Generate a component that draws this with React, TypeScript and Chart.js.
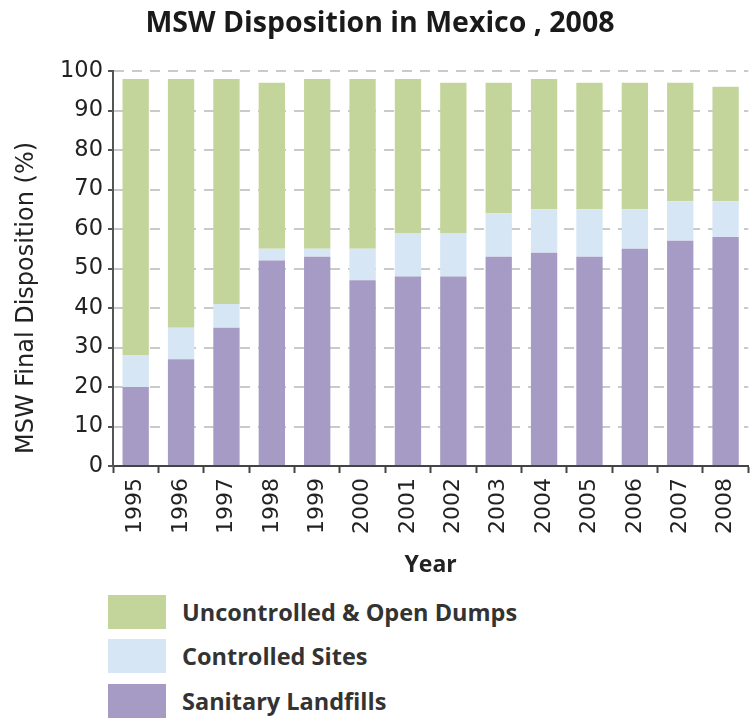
import React, { useEffect, useRef } from "react";
import { Chart, registerables } from "chart.js";

Chart.register(...registerables);

const years = ["1995", "1996", "1997", "1998", "1999", "2000", "2001", "2002", "2003", "2004", "2005", "2006", "2007", "2008"];
const sanitaryLandfills = [20, 27, 35, 52, 53, 47, 48, 48, 53, 54, 53, 55, 57, 58];
const controlledSites = [8, 8, 6, 3, 2, 8, 11, 11, 11, 11, 12, 10, 10, 9];
const uncontrolledDumps = [70, 63, 57, 42, 43, 43, 39, 38, 33, 33, 32, 32, 30, 29];

const seriesNames = ["Sanitary Landfills", "Controlled Sites", "Uncontrolled & Open Dumps"];
const seriesColors = ["#a69bc4", "#d6e6f4", "#c4d59b"];

const titleText = "MSW Disposition in Mexico , 2008";
const yTitle = "MSW Final Disposition (%)";
const xTitle = "Year";

const yTitlePlugin = {
  id: "yTitlePlugin",
  afterDraw(chart: any) {
    const ctx = chart.ctx;
    ctx.save();
    ctx.translate(27, 298);
    ctx.rotate(-Math.PI / 2);
    ctx.textAlign = "center";
    ctx.textBaseline = "middle";
    ctx.fillStyle = "#222";
    ctx.font = "24px 'DejaVu Sans'";
    ctx.fillText(yTitle, 0, 0);
    ctx.restore();
  },
};

export default function App() {
  const canvasRef = useRef<HTMLCanvasElement | null>(null);

  useEffect(() => {
    const canvas = canvasRef.current;
    if (!canvas) return;
    const series = [sanitaryLandfills, controlledSites, uncontrolledDumps];
    const chart = new Chart(canvas, {
      type: "bar",
      data: {
        labels: years,
        datasets: series.map((d, i) => ({
          label: seriesNames[i],
          data: d,
          backgroundColor: seriesColors[i],
          borderWidth: 0,
          barPercentage: 0.58,
          categoryPercentage: 1,
        })),
      },
      plugins: [yTitlePlugin],
      options: {
        responsive: false,
        animation: false,
        layout: { padding: { top: 71, left: 0, right: 0, bottom: 0 } },
        plugins: {
          legend: { display: false },
          title: { display: false },
          tooltip: { enabled: false },
        },
        scales: {
          x: {
            stacked: true,
            grid: {
              display: true,
              drawOnChartArea: false,
              drawTicks: true,
              tickLength: 7,
              tickColor: "#444",
              tickWidth: 2,
              offset: true,
            },
            border: { display: true, color: "#444", width: 2 },
            ticks: {
              autoSkip: false,
              minRotation: 90,
              maxRotation: 90,
              padding: 5,
              color: "#222",
              font: { family: "DejaVu Sans", size: 22 },
            },
            title: {
              display: true,
              text: xTitle,
              color: "#222",
              font: { family: "Open Sans", weight: "bold", size: 23 },
              padding: { top: 0, bottom: 11 },
            },
            afterFit: (s: any) => {
              s.height = 124;
            },
          },
          y: {
            stacked: true,
            min: 0,
            max: 100,
            ticks: {
              stepSize: 10,
              padding: 5,
              color: "#222",
              font: { family: "DejaVu Sans", size: 22.5 },
            },
            grid: {
              color: "#cacaca",
              lineWidth: 2,
              tickLength: 5,
              tickColor: "#555",
              tickWidth: 2,
            },
            border: { display: true, color: "#555", width: 2, dash: [10, 8] },
            title: { display: false },
            afterFit: (s: any) => {
              s.width = 113;
            },
          },
        },
      } as any,
    });
    return () => chart.destroy();
  }, []);

  const legendRows = [2, 1, 0];
  const legendTops = [595, 639, 684];

  return (
    <div style={{ position: "absolute", left: 0, top: 0, width: 751, height: 720, background: "#fff", overflow: "hidden" }}>
      <canvas ref={canvasRef} width={757} height={590} style={{ position: "absolute", left: 0, top: 0, width: 757, height: 590 }} />
      <div
        style={{
          position: "absolute",
          top: 6,
          left: 0,
          width: 760,
          textAlign: "center",
          fontFamily: "'Open Sans'",
          fontWeight: "bold",
          fontSize: 28.5,
          lineHeight: "30px",
          color: "#1a1a1a",
          whiteSpace: "nowrap",
        }}
      >
        {titleText}
      </div>
      {legendRows.map((si, k) => (
        <div
          key={si}
          style={{
            position: "absolute",
            left: 108,
            top: legendTops[k],
            height: 34,
            display: "flex",
            alignItems: "center",
          }}
        >
          <div style={{ width: 58, height: 34, background: seriesColors[si] }} />
          <div
            style={{
              marginLeft: 16,
              fontFamily: "'Open Sans'",
              fontWeight: "bold",
              fontSize: 23.5,
              color: "#333",
              whiteSpace: "nowrap",
            }}
          >
            {seriesNames[si]}
          </div>
        </div>
      ))}
    </div>
  );
}
